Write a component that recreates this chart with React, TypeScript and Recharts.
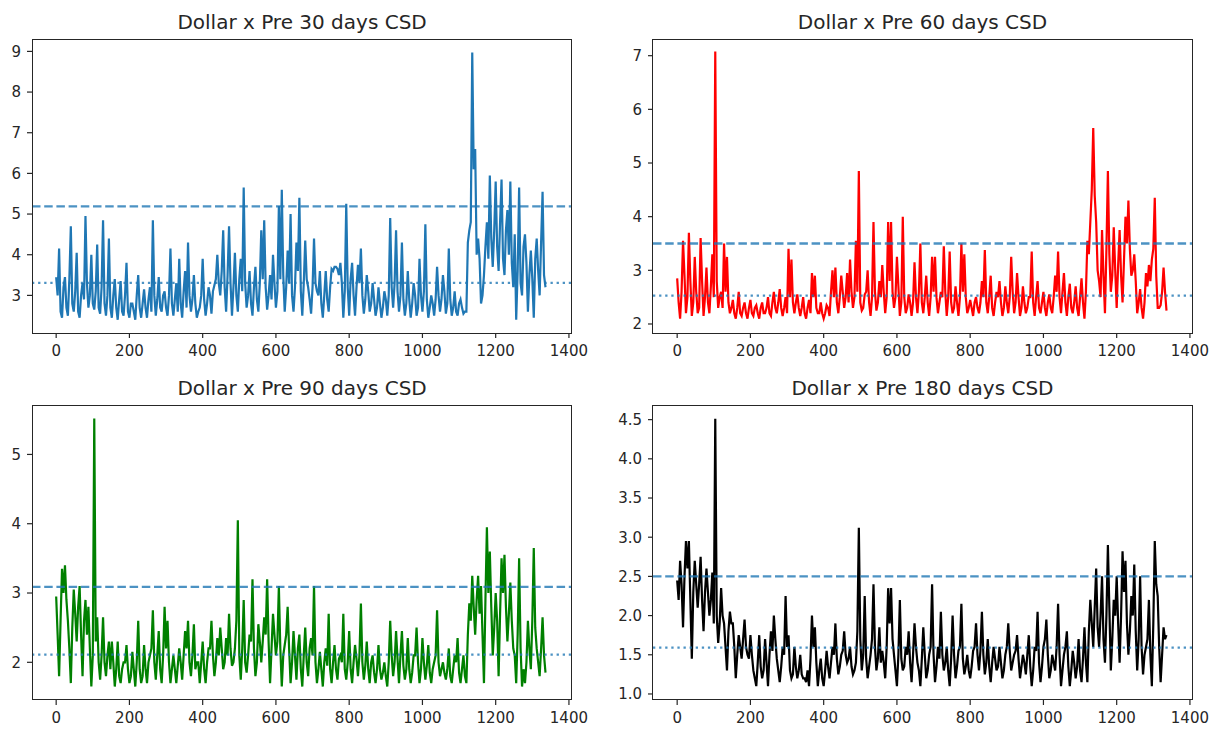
import React from 'react';
import { LineChart, Line, XAxis, YAxis, ReferenceLine } from 'recharts';

// readings taken off the original plots: main ones every 8 days (day 0, 8, 16 ...)
// and the in-between band readings (day 4, 12, 20 ...)
const step = 8;

const csd30 = [
  3.45, 4.15, 2.45, 3.45, 2.5, 4.7, 2.6, 4.05, 2.45, 3.3,
  4.95, 2.7, 4.0, 2.65, 4.25, 2.55, 4.85, 2.5, 4.4, 2.45,
  3.4, 2.4, 3.35, 2.5, 3.8, 2.45, 2.8, 2.4, 3.5, 2.45,
  3.15, 2.45, 3.2, 4.85, 2.5, 3.45, 2.6, 3.1, 2.5, 4.15,
  2.5, 3.3, 3.9, 2.45, 3.6, 4.3, 2.6, 3.5, 2.45, 2.7,
  3.9, 2.5, 3.2, 2.55, 3.25, 4.0, 3.0, 4.6, 2.6, 4.7,
  2.5, 4.05, 2.6, 3.9, 5.65, 2.7, 3.6, 2.5, 3.7, 2.6,
  4.6, 4.85, 2.65, 3.5, 4.0, 2.7, 5.2, 5.6, 2.6, 4.1,
  5.0, 2.6, 4.3, 5.4, 2.5, 4.35, 3.2, 2.55, 4.4, 3.1,
  3.6, 2.45, 3.6, 2.6, 3.65, 3.7, 3.65, 3.8, 2.45, 5.25,
  2.5, 3.8, 2.5, 3.75, 4.15, 2.55, 3.5, 2.6, 3.3, 2.5,
  3.2, 2.45, 3.1, 2.5, 4.9, 2.7, 4.6, 2.6, 4.3, 2.5,
  3.6, 2.45, 3.3, 2.5, 3.9, 2.6, 4.75, 2.45, 3.0, 2.5,
  3.7, 2.6, 3.5, 2.55, 4.15, 2.5, 3.1, 2.5, 2.9, 2.55,
  2.6, 4.6, 8.97, 6.6, 4.4, 2.8, 3.5, 4.8, 5.95, 3.7,
  5.8, 3.6, 5.85, 3.5, 5.1, 5.8, 3.2, 2.4, 5.65, 3.0,
  4.5, 2.6, 4.1, 2.45, 4.4, 3.0, 5.55, 3.2,
];
const csd30Mid = [
  3.0, 2.6, 3.2, 2.7, 3.4, 2.8, 3.1, 2.6, 3.0, 2.9,
  3.3, 3.0, 2.8, 3.1, 2.7, 3.2, 2.8, 3.0, 2.7, 3.0,
  2.7, 2.9, 2.6, 3.0, 2.6, 2.8, 2.6, 3.0, 2.7, 2.8,
  2.7, 2.9, 2.6, 3.0, 2.9, 2.7, 3.0, 2.7, 3.0, 2.8,
  2.9, 2.6, 2.8, 3.1, 2.7, 3.0, 2.9, 2.8, 2.6, 3.0,
  2.9, 2.8, 3.0, 3.1, 3.4, 3.3, 3.6, 3.2, 3.5, 3.3,
  3.2, 3.0, 3.4, 3.1, 3.3, 3.0, 2.8, 3.2, 2.9, 3.3,
  3.4, 3.2, 3.0, 2.9, 3.3, 3.1, 3.4, 3.5, 3.2, 3.3,
  3.0, 3.2, 3.6, 3.1, 3.3, 3.4, 2.9, 3.2, 3.3, 3.0,
  2.8, 3.0, 2.9, 3.2, 3.6, 3.7, 3.5, 3.3, 3.1, 3.2,
  3.4, 3.0, 3.2, 3.3, 3.0, 2.9, 3.1, 2.8, 2.9, 2.7,
  2.8, 2.7, 2.9, 3.0, 3.2, 3.3, 3.1, 3.0, 2.9, 2.8,
  2.9, 2.8, 3.0, 2.7, 3.0, 3.1, 2.9, 2.7, 2.8, 2.9,
  3.0, 2.9, 3.1, 2.8, 2.9, 2.7, 2.6, 2.8, 2.7, 2.6,
  4.3, 4.8, 6.1, 4.0, 3.9, 3.0, 4.2, 3.9, 4.4, 4.6,
  4.2, 4.8, 3.9, 4.6, 4.0, 3.8, 4.5, 3.6, 3.3, 4.2,
  3.8, 3.5, 3.4, 3.9, 3.6, 4.3, 3.5,
];

const csd60 = [
  2.85, 2.1, 3.55, 2.2, 3.7, 2.15, 3.25, 2.2, 3.6, 2.15,
  3.05, 2.2, 3.3, 7.08, 2.3, 2.6, 3.5, 3.25, 2.2, 2.45,
  2.1, 2.6, 2.15, 2.4, 2.1, 2.45, 2.15, 2.35, 2.1, 2.4,
  2.2, 2.5, 2.15, 2.6, 2.2, 2.65, 2.15, 2.5, 3.4, 3.2,
  2.2, 2.55, 2.15, 2.5, 2.1, 2.45, 2.95, 2.9, 2.2, 2.4,
  2.1, 2.35, 2.15, 3.0, 3.05, 2.2, 2.9, 2.3, 2.95, 3.2,
  2.3, 3.55, 4.85, 2.25, 2.55, 3.0, 2.15, 3.9, 2.25, 2.8,
  3.1, 2.2, 3.9, 3.9, 2.3, 3.25, 2.15, 4.0, 2.2, 2.55,
  2.15, 3.15, 2.2, 3.5, 2.2, 2.9, 2.15, 3.25, 3.25, 2.2,
  2.6, 3.45, 2.15, 3.35, 2.2, 2.7, 2.15, 3.5, 3.3, 2.2,
  2.45, 2.15, 2.5, 2.2, 2.8, 3.38, 2.2, 2.9, 2.15, 2.6,
  2.8, 2.15, 2.7, 2.2, 3.25, 2.2, 2.95, 2.15, 2.7, 2.2,
  2.5, 3.35, 2.15, 2.8, 2.2, 2.6, 2.15, 2.55, 2.2, 2.9,
  3.35, 2.2, 2.95, 2.15, 2.75, 2.2, 2.7, 2.15, 2.85, 2.1,
  3.55, 3.9, 5.65, 3.9, 2.8, 3.75, 2.2, 4.85, 2.6, 3.8,
  2.3, 3.75, 2.4, 4.0, 4.3, 2.9, 3.3, 2.2, 2.65, 2.1,
  2.95, 3.1, 3.2, 4.35, 2.3, 2.35, 3.05, 2.25,
];
const csd60Mid = [
  2.4, 2.6, 2.9, 2.5, 2.8, 2.4, 2.6, 2.3, 2.8, 2.5,
  2.4, 2.7, 2.5, 2.8, 2.5, 2.3, 2.6, 2.4, 2.3, 2.2,
  2.3, 2.2, 2.3, 2.2, 2.3, 2.2, 2.3, 2.2, 2.3, 2.2,
  2.3, 2.2, 2.4, 2.3, 2.4, 2.3, 2.3, 2.2, 2.5, 2.4,
  2.4, 2.3, 2.3, 2.2, 2.3, 2.2, 2.5, 2.3, 2.2, 2.2,
  2.2, 2.3, 2.6, 2.5, 2.4, 2.5, 2.6, 2.5, 2.4, 2.6,
  2.5, 2.6, 2.4, 2.3, 2.6, 2.4, 2.5, 2.6, 2.4, 2.5,
  2.6, 2.5, 2.8, 2.6, 2.5, 2.7, 2.4, 2.5, 2.3, 2.4,
  2.4, 2.5, 2.6, 2.4, 2.5, 2.4, 2.5, 2.6, 2.5, 2.4,
  2.5, 2.6, 2.5, 2.4, 2.3, 2.4, 2.5, 2.6, 2.5, 2.3,
  2.3, 2.4, 2.3, 2.4, 2.5, 2.4, 2.5, 2.3, 2.4, 2.5,
  2.4, 2.3, 2.4, 2.5, 2.6, 2.4, 2.5, 2.3, 2.4, 2.3,
  2.5, 2.4, 2.5, 2.3, 2.4, 2.3, 2.4, 2.3, 2.5, 2.6,
  2.5, 2.6, 2.4, 2.5, 2.3, 2.4, 2.3, 2.5, 2.4, 2.6,
  3.3, 4.5, 4.4, 3.0, 2.5, 2.9, 3.4, 3.3, 2.9, 3.0,
  3.1, 2.9, 3.2, 3.5, 3.4, 3.0, 2.8, 2.4, 2.3, 2.4,
  2.7, 2.8, 3.4, 2.9, 2.3, 2.6, 2.6,
];

const csd90 = [
  2.95, 1.8, 3.35, 3.4, 2.6, 1.7, 3.05, 2.3, 3.1, 1.8,
  2.9, 2.8, 1.65, 5.52, 2.65, 1.75, 2.65, 1.8, 2.3, 2.3,
  1.65, 2.3, 1.7, 2.0, 2.25, 1.7, 2.15, 1.65, 2.6, 1.7,
  2.25, 1.7, 2.1, 2.75, 1.75, 2.45, 1.7, 2.8, 2.6, 1.7,
  2.1, 1.7, 2.2, 1.75, 2.45, 2.6, 1.8, 2.55, 2.0, 1.7,
  2.3, 1.7, 2.2, 2.6, 1.8, 2.35, 2.5, 1.9, 2.35, 2.7,
  1.95, 2.2, 4.05, 1.75, 2.9, 1.85, 2.4, 3.2, 1.8, 2.55,
  2.0, 2.65, 3.2, 1.7, 2.7, 2.1, 3.1, 1.65, 2.25, 2.8,
  1.7, 2.45, 1.75, 2.4, 1.65, 2.5, 1.8, 2.35, 3.1, 1.7,
  2.15, 1.65, 2.2, 2.7, 1.7, 2.25, 1.75, 2.1, 2.7, 1.75,
  2.45, 1.7, 2.25, 1.8, 2.85, 1.75, 2.3, 1.7, 2.1, 1.7,
  2.25, 1.75, 2.0, 1.65, 2.6, 1.8, 2.45, 1.7, 2.45, 1.75,
  2.35, 1.7, 2.1, 2.5, 1.7, 2.35, 1.75, 2.25, 1.7, 2.0,
  2.75, 1.8, 2.0, 1.75, 2.2, 1.7, 2.1, 2.35, 1.7, 2.1,
  1.7, 2.85, 3.25, 2.4, 3.25, 3.1, 1.7, 3.95, 3.6, 2.1,
  3.0, 1.8, 3.5, 3.55, 2.3, 3.15, 2.2, 1.7, 3.5, 1.65,
  1.7, 2.6, 1.9, 3.65, 2.2, 1.8, 2.65, 1.85,
];
const csd90Mid = [
  2.4, 2.6, 3.0, 2.9, 2.2, 2.5, 2.7, 2.8, 2.4, 2.6,
  2.4, 2.2, 2.1, 2.3, 2.0, 2.1, 2.0, 2.1, 1.9, 2.0,
  1.9, 1.8, 1.9, 2.0, 1.9, 1.8, 1.9, 2.0, 1.9, 1.8,
  1.9, 2.0, 2.2, 2.0, 2.1, 1.9, 2.1, 2.2, 2.0, 1.9,
  1.9, 1.95, 2.0, 2.1, 2.2, 2.0, 2.1, 1.9, 2.0, 2.0,
  1.9, 2.0, 2.2, 2.1, 2.0, 2.1, 2.2, 2.0, 2.1, 2.2,
  2.0, 2.6, 2.1, 2.2, 2.0, 2.1, 2.3, 2.2, 2.0, 2.3,
  2.3, 2.4, 2.3, 2.2, 2.4, 2.3, 2.2, 2.1, 2.4, 2.2,
  2.0, 2.1, 2.2, 1.9, 2.1, 2.0, 2.2, 2.1, 2.0, 1.9,
  1.9, 2.0, 1.95, 1.9, 2.0, 1.9, 2.05, 2.0, 1.9, 2.0,
  1.9, 2.0, 2.05, 2.1, 2.0, 1.95, 1.9, 2.0, 1.85, 1.9,
  1.9, 1.85, 1.8, 2.0, 2.1, 2.0, 2.05, 2.1, 1.95, 1.9,
  1.9, 1.85, 2.1, 2.0, 1.9, 2.0, 1.95, 1.85, 1.9, 2.1,
  2.0, 1.9, 1.85, 1.9, 1.8, 1.9, 2.0, 1.85, 1.9, 1.8,
  2.4, 2.6, 2.8, 2.9, 2.7, 2.4, 2.9, 3.0, 2.8, 2.5,
  2.6, 2.7, 3.0, 2.8, 2.7, 2.6, 2.1, 2.4, 2.2, 1.9,
  2.0, 2.2, 2.6, 2.5, 2.0, 2.2, 2.1,
];

const csd180 = [
  2.45, 2.7, 1.85, 2.95, 2.95, 1.45, 2.7, 2.1, 2.75, 1.8,
  2.6, 2.0, 2.55, 4.51, 1.65, 2.35, 1.9, 1.3, 2.05, 1.9,
  1.2, 1.75, 1.45, 1.95, 1.5, 1.75, 1.3, 1.1, 1.75, 1.2,
  1.7, 1.1, 1.8, 2.0, 1.45, 1.15, 1.6, 2.25, 1.75, 1.2,
  1.6, 1.2, 1.5, 1.2, 1.15, 1.1, 2.0, 1.85, 1.1, 1.45,
  1.1, 1.55, 1.2, 1.6, 1.9, 1.25, 1.5, 1.8, 1.4, 1.6,
  1.25, 1.4, 3.12, 1.3, 2.25, 1.2, 1.5, 2.4, 1.3, 1.85,
  1.55, 1.2, 2.35, 2.35, 1.5, 1.1, 2.2, 1.3, 1.6, 1.8,
  1.15, 1.9, 1.4, 1.1, 1.85, 1.2, 1.5, 2.4, 1.15, 1.6,
  2.05, 1.3, 1.6, 1.1, 2.0, 1.2, 1.55, 2.15, 1.25, 1.5,
  1.2, 1.55, 1.9, 1.3, 2.05, 1.25, 1.7, 1.15, 1.6, 1.3,
  1.6, 1.2, 1.5, 1.9, 1.3, 1.5, 1.75, 1.2, 1.5, 1.25,
  1.75, 1.1, 1.6, 2.05, 1.15, 1.6, 1.95, 1.2, 1.5, 1.3,
  2.15, 1.1, 1.5, 1.8, 1.1, 1.55, 1.2, 1.7, 1.15, 1.85,
  1.15, 2.2, 1.6, 2.6, 1.6, 2.5, 1.4, 2.9, 1.3, 2.2,
  2.5, 1.4, 2.82, 2.7, 1.5, 2.25, 2.65, 1.3, 2.5, 1.25,
  1.6, 2.2, 1.1, 2.95, 2.25, 1.15, 1.85, 1.75,
];
const csd180Mid = [
  2.2, 2.4, 2.5, 2.6, 2.2, 2.3, 2.4, 2.4, 2.2, 2.3,
  2.3, 2.2, 1.9, 2.0, 1.9, 2.0, 1.6, 1.8, 1.9, 1.6,
  1.5, 1.6, 1.7, 1.6, 1.45, 1.5, 1.2, 1.4, 1.35, 1.3,
  1.4, 1.5, 1.55, 1.7, 1.3, 1.35, 1.5, 1.6, 1.3, 1.25,
  1.35, 1.3, 1.25, 1.2, 1.3, 1.45, 1.6, 1.4, 1.3, 1.2,
  1.3, 1.35, 1.4, 1.5, 1.45, 1.35, 1.55, 1.5, 1.45, 1.35,
  1.3, 1.8, 1.7, 1.5, 1.45, 1.35, 1.7, 1.6, 1.45, 1.4,
  1.4, 1.6, 1.9, 1.7, 1.3, 1.5, 1.45, 1.35, 1.5, 1.4,
  1.5, 1.6, 1.3, 1.45, 1.5, 1.3, 1.6, 1.5, 1.35, 1.45,
  1.5, 1.4, 1.3, 1.45, 1.5, 1.35, 1.6, 1.45, 1.35, 1.3,
  1.35, 1.6, 1.5, 1.55, 1.5, 1.4, 1.35, 1.4, 1.45, 1.35,
  1.4, 1.3, 1.6, 1.55, 1.4, 1.55, 1.45, 1.35, 1.4, 1.5,
  1.35, 1.3, 1.55, 1.4, 1.35, 1.7, 1.5, 1.3, 1.4, 1.6,
  1.5, 1.3, 1.6, 1.35, 1.3, 1.4, 1.35, 1.3, 1.45, 1.4,
  1.8, 1.9, 2.1, 1.85, 2.0, 1.7, 2.0, 2.1, 1.7, 2.0,
  1.9, 2.0, 2.3, 1.9, 1.8, 2.0, 1.8, 1.7, 1.6, 1.5,
  1.7, 1.5, 1.9, 2.4, 1.6, 1.5, 1.7,
];

const titles = [
  'Dollar x Pre 30 days CSD',
  'Dollar x Pre 60 days CSD',
  'Dollar x Pre 90 days CSD',
  'Dollar x Pre 180 days CSD',
];
const colors = ['#1f77b4', '#ff0000', '#008000', '#000000'];
const upperLines = [5.19, 3.5, 3.09, 2.5];
const meanLines = [3.31, 2.53, 2.11, 1.59];

const xTicks = [0, 200, 400, 600, 800, 1000, 1200, 1400];
const yTicks30 = [3, 4, 5, 6, 7, 8, 9];
const yTicks60 = [2, 3, 4, 5, 6, 7];
const yTicks90 = [2, 3, 4, 5];
const yTicks180 = [1.0, 1.5, 2.0, 2.5, 3.0, 3.5, 4.0, 4.5];

const FONT = '"DejaVu Sans", sans-serif';
const INK = '#262626';
const PW = 539.5;
const PH = 294;
const YW = 40;
const TOP = 10;
const XH = 45;
const RIGHT = 30;

// merge the main readings with the in-between ones into one day-ordered series
const toRows = (main: number[], mid: number[]) => {
  const rows: { day: number; v: number }[] = [];
  main.forEach((v, i) => {
    rows.push({ day: i * step, v });
    if (i < mid.length) rows.push({ day: i * step + step / 2, v: mid[i] });
  });
  return rows;
};

interface IPanel {
  title: string
  values: number[]
  mids: number[]
  color: string
  yDomain: [number, number]
  yTicks: number[]
  upper: number
  mean: number
  left: number
  top: number
  decimals?: boolean
}

const Panel = ({ title, values, mids, color, yDomain, yTicks, upper, mean, left, top, decimals }: IPanel) => {
  const data = toRows(values, mids);
  const tickStyle = { fontSize: 15, fill: INK, fontFamily: FONT };
  return (
    <div style={{ position: 'absolute', left: left - YW, top: top - TOP }}>
      <LineChart
        width={YW + PW + RIGHT}
        height={TOP + PH + XH}
        data={data}
        margin={{ top: TOP, right: RIGHT, left: 0, bottom: 0 }}
      >
        <XAxis
          dataKey="day"
          type="number"
          domain={[-66, 1407]}
          allowDataOverflow
          ticks={xTicks}
          interval={0}
          height={XH}
          axisLine={false}
          tickSize={5}
          tickMargin={7}
          tickLine={{ stroke: INK, strokeWidth: 1.2 }}
          tick={tickStyle}
        />
        <YAxis
          type="number"
          domain={yDomain}
          allowDataOverflow
          ticks={yTicks}
          interval={0}
          width={YW}
          axisLine={false}
          tickSize={5}
          tickMargin={6}
          tickLine={{ stroke: INK, strokeWidth: 1.2 }}
          tick={tickStyle}
          tickFormatter={(v: number) => (decimals ? v.toFixed(1) : String(v))}
        />
        <Line
          type="linear"
          dataKey="v"
          stroke={color}
          strokeWidth={2.2}
          dot={false}
          isAnimationActive={false}
        />
        <ReferenceLine y={upper} stroke="#1f77b4" strokeOpacity={0.8} strokeWidth={2.3} strokeDasharray="8.5 3.7" />
        <ReferenceLine y={mean} stroke="#1f77b4" strokeOpacity={0.8} strokeWidth={2.3} strokeDasharray="2.3 3.8" />
      </LineChart>
      <div
        style={{
          position: 'absolute',
          left: YW - 0.6,
          top: TOP - 0.6,
          width: PW + 1.2,
          height: PH + 1.2,
          border: `1.2px solid ${INK}`,
          boxSizing: 'border-box',
          pointerEvents: 'none',
        }}
      />
      <div
        style={{
          position: 'absolute',
          left: YW,
          width: PW,
          top: TOP - 17.6 - 12,
          height: 24,
          lineHeight: '24px',
          textAlign: 'center',
          fontFamily: FONT,
          fontSize: 20,
          color: INK,
          whiteSpace: 'nowrap',
        }}
      >
        {title}
      </div>
    </div>
  );
};

export default function App() {
  return (
    <div style={{ position: 'absolute', left: 0, top: 0, width: 1221, height: 731, background: '#fff' }}>
      <Panel title={titles[0]} values={csd30} mids={csd30Mid} color={colors[0]} yDomain={[2.075, 9.305]}
        yTicks={yTicks30} upper={upperLines[0]} mean={meanLines[0]} left={32.3} top={39.3} />
      <Panel title={titles[1]} values={csd60} mids={csd60Mid} color={colors[1]} yDomain={[1.832, 7.311]}
        yTicks={yTicks60} upper={upperLines[1]} mean={meanLines[1]} left={652.7} top={39.3} />
      <Panel title={titles[2]} values={csd90} mids={csd90Mid} color={colors[2]} yDomain={[1.456, 5.699]}
        yTicks={yTicks90} upper={upperLines[2]} mean={meanLines[2]} left={32.3} top={405.5} />
      <Panel title={titles[3]} values={csd180} mids={csd180Mid} color={colors[3]} yDomain={[0.923, 4.674]}
        yTicks={yTicks180} upper={upperLines[3]} mean={meanLines[3]} left={652.7} top={405.5} decimals />
    </div>
  );
}
